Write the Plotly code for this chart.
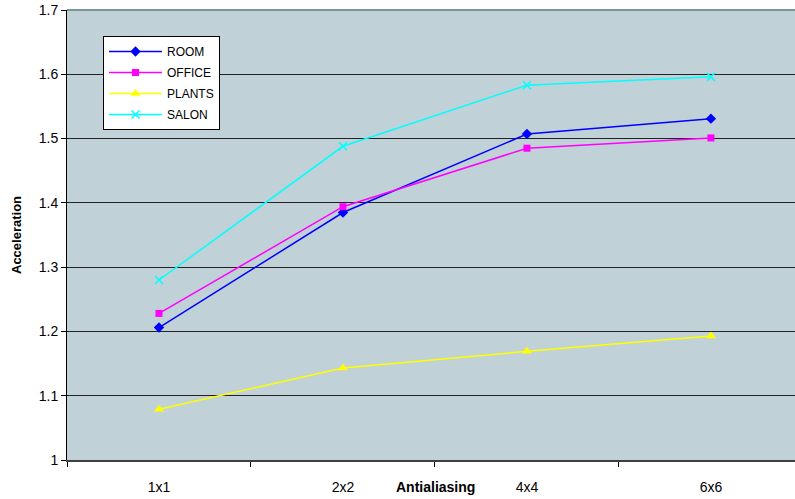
import plotly.graph_objects as go

categories = ["1x1", "2x2", "4x4", "6x6"]
room = [1.206, 1.385, 1.507, 1.531]
office = [1.228, 1.394, 1.485, 1.501]
plants = [1.079, 1.143, 1.169, 1.193]
salon = [1.280, 1.488, 1.583, 1.596]
y_ticks = [1, 1.1, 1.2, 1.3, 1.4, 1.5, 1.6, 1.7]
y_ticktext = ["1", "1.1", "1.2", "1.3", "1.4", "1.5", "1.6", "1.7"]

series = [
    ("ROOM", room, "#0000FF", dict(symbol="diamond", size=8, color="#0000FF")),
    ("OFFICE", office, "#FF00FF", dict(symbol="square", size=7, color="#FF00FF")),
    ("PLANTS", plants, "#FFFF00", dict(symbol="triangle-up", size=9, color="#FFFF00")),
    ("SALON", salon, "#00FFFF", dict(symbol="x-thin", size=8, color="#00FFFF",
                                     line=dict(color="#00FFFF", width=1.5))),
]

fig = go.Figure()
for i, (name, vals, col, mk) in enumerate(series):
    fig.add_trace(go.Scatter(
        x=categories, y=vals, name=name, mode="lines+markers",
        line=dict(color=col, width=1.5), marker=mk, legendgroup=f"g{i}",
    ))

fig.update_layout(
    width=795, height=499,
    margin=dict(l=67, r=0, t=10, b=39),
    paper_bgcolor="white",
    plot_bgcolor="#C1D1D8",
    font=dict(family="Liberation Sans, Arial, sans-serif", size=14, color="black"),
    showlegend=True,
    legend=dict(
        x=(103 - 67) / 728, y=1 - (36 - 10) / 450, xanchor="left", yanchor="top",
        bgcolor="white", bordercolor="black", borderwidth=1,
        font=dict(size=12, color="black"),
        tracegroupgap=2, traceorder="grouped",
        itemwidth=53,
    ),
    xaxis=dict(
        type="category", range=[-0.5, 3.457], automargin=False,
        showgrid=False, showline=True, linecolor="#404040", linewidth=1.5,
        ticks="outside", tickson="boundaries", ticklen=5, tickcolor="black",
        ticklabelstandoff=13, zeroline=False, fixedrange=True,
    ),
    yaxis=dict(
        range=[1, 1.7], tickvals=y_ticks, ticktext=y_ticktext, automargin=False,
        showgrid=True, gridcolor="#222222", gridwidth=1,
        showline=True, linecolor="black", linewidth=1,
        ticks="outside", ticklen=5, tickcolor="black",
        title=dict(text="<b>Acceleration</b>", font=dict(size=13), standoff=14),
        zeroline=False,
    ),
    annotations=[dict(
        text="<b>Antialiasing</b>", xref="paper", yref="paper",
        x=(435 - 67) / 728, y=0, yshift=-27, xanchor="center", yanchor="middle",
        showarrow=False, font=dict(size=14),
    )],
    shapes=[dict(type="line", xref="paper", yref="paper", x0=0, x1=1, y0=1, y1=1,
                 line=dict(color="#7A9498", width=2))],
)

fig.write_html("out.html", config={"displayModeBar": False},
               post_script="document.body.style.margin='0';")
